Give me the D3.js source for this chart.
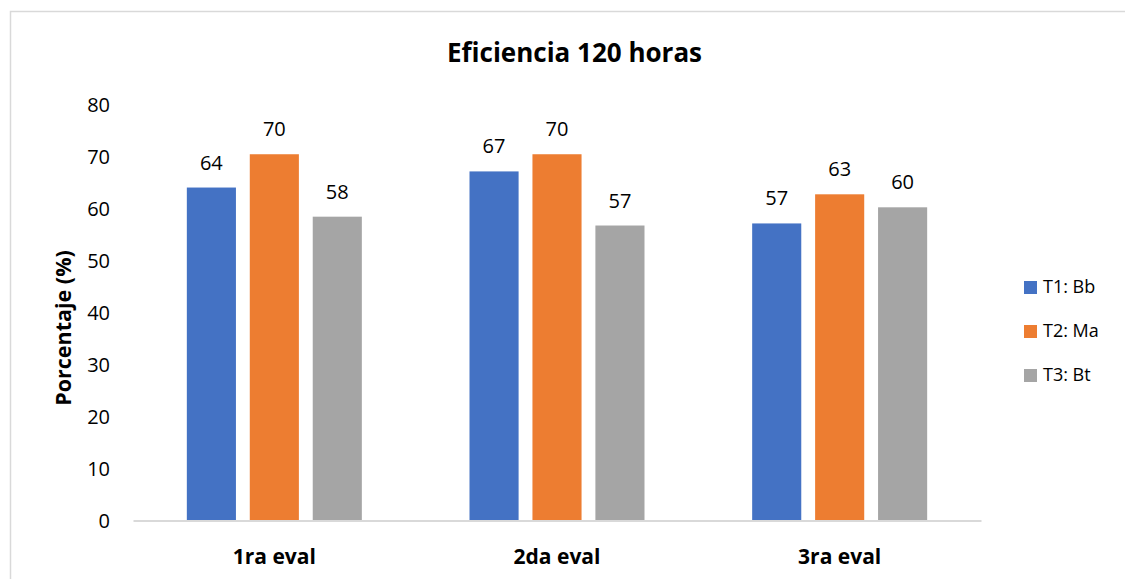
<!DOCTYPE html>
<html>
<head>
<meta charset="utf-8">
<script src="https://cdn.jsdelivr.net/npm/d3@7"></script>
<style>
  body { margin: 0; background: #fff; }
  svg { font-family: 'Open Sans', sans-serif; }
</style>
</head>
<body>
<svg></svg>
<script>
const categories = ['1ra eval', '2da eval', '3ra eval'],
      seriesNames = ['T1: Bb', 'T2: Ma', 'T3: Bt'],
      seriesColors = ['#4472C4', '#ED7D31', '#A5A5A5'],
      t1Values = [64.0, 67.1, 57.1],
      t2Values = [70.4, 70.4, 62.7],
      t3Values = [58.4, 56.7, 60.2],
      yTicks = [0, 10, 20, 30, 40, 50, 60, 70, 80];

const width = 1125,
      height = 579,
      plotLeft = 133,
      plotRight = 981,
      plotTop = 104.3,
      plotBottom = 520.5,
      seriesValues = [t1Values, t2Values, t3Values],
      data = categories.map((c, i) => ({
        category: c,
        values: seriesNames.map((s, j) => ({ series: s, value: seriesValues[j][i], color: seriesColors[j] }))
      })),
      x0 = d3.scaleBand()
             .domain(categories)
             .range([plotLeft, plotRight]),
      groupWidth = 175,
      x1 = d3.scaleBand()
             .domain(seriesNames)
             .range([(x0.bandwidth() - groupWidth) / 2, (x0.bandwidth() + groupWidth) / 2])
             .paddingInner(0.22),
      yScale = d3.scaleLinear()
                 .domain([0, 80])
                 .range([plotBottom, plotTop]),
      yAxis = d3.axisLeft(yScale)
                .tickValues(yTicks)
                .tickSize(0)
                .tickPadding(0),
      xAxis = d3.axisBottom(x0)
                .tickSize(0)
                .tickPadding(0);

const svg = d3.select('svg')
    .attr('width', width)
    .attr('height', height);

// chart area border, runs off the right and bottom edges
svg.append('rect')
    .attr('x', 10.5)
    .attr('y', 11.5)
    .attr('width', 1200)
    .attr('height', 700)
    .attr('fill', 'none')
    .attr('stroke', '#D9D9D9')
    .attr('stroke-width', 1.5);

svg.append('text')
    .text('Eficiencia 120 horas')
    .attr('x', 574.5)
    .attr('y', 62)
    .attr('font-size', 26)
    .attr('font-weight', 'bold')
    .attr('fill', '#000')
    .style('text-anchor', 'middle');

const yG = svg.append('g')
    .attr('transform', `translate(110, 0)`)
    .call(yAxis);
yG.select('.domain').remove();
yG.selectAll('text')
    .attr('font-size', 20)
    .attr('font-family', "'Open Sans', sans-serif")
    .attr('fill', '#000')
    .attr('dy', '0.35em');

const groups = svg.append('g')
  .selectAll('g')
  .data(data)
  .enter()
  .append('g')
    .attr('transform', (d) => `translate(${x0(d.category)}, 0)`);

groups.selectAll('rect')
  .data((d) => d.values)
  .enter()
  .append('rect')
    .attr('x', (d) => x1(d.series))
    .attr('y', (d) => yScale(d.value))
    .attr('width', x1.bandwidth())
    .attr('height', (d) => yScale(0) - yScale(d.value))
    .attr('fill', (d) => d.color);

groups.selectAll('text')
  .data((d) => d.values)
  .enter()
  .append('text')
    .text((d) => d3.format('.0f')(d.value))
    .attr('x', (d) => x1(d.series) + x1.bandwidth() / 2)
    .attr('y', (d) => yScale(d.value) - 18)
    .attr('font-size', 20)
    .attr('fill', '#000')
    .style('text-anchor', 'middle');

const xG = svg.append('g')
    .attr('transform', `translate(0, ${plotBottom})`)
    .call(xAxis);
xG.select('.domain')
    .attr('stroke', '#D9D9D9')
    .attr('stroke-width', 2);
xG.selectAll('text')
    .attr('font-size', 21)
    .attr('font-weight', 'bold')
    .attr('font-family', "'Open Sans', sans-serif")
    .attr('fill', '#000')
    .attr('dy', null)
    .attr('y', 43);

svg.append('text')
    .text('Porcentaje (%)')
    .attr('transform', 'rotate(-90)')
    .attr('x', -328)
    .attr('y', 63)
    .attr('dy', '0.35em')
    .attr('font-size', 21.5)
    .attr('font-weight', 'bold')
    .style('text-anchor', 'middle');

const legend = svg.append('g')
  .selectAll('g')
  .data(seriesNames)
  .enter()
  .append('g')
    .attr('transform', (d, i) => `translate(1024, ${287 + i * 44})`);

legend.append('rect')
    .attr('x', 0)
    .attr('y', -6)
    .attr('width', 13)
    .attr('height', 13)
    .attr('fill', (d, i) => seriesColors[i]);

legend.append('text')
    .text((d) => d)
    .attr('x', 19)
    .attr('dy', '0.35em')
    .attr('font-size', 18)
    .attr('fill', '#000');
</script>
</body>
</html>
